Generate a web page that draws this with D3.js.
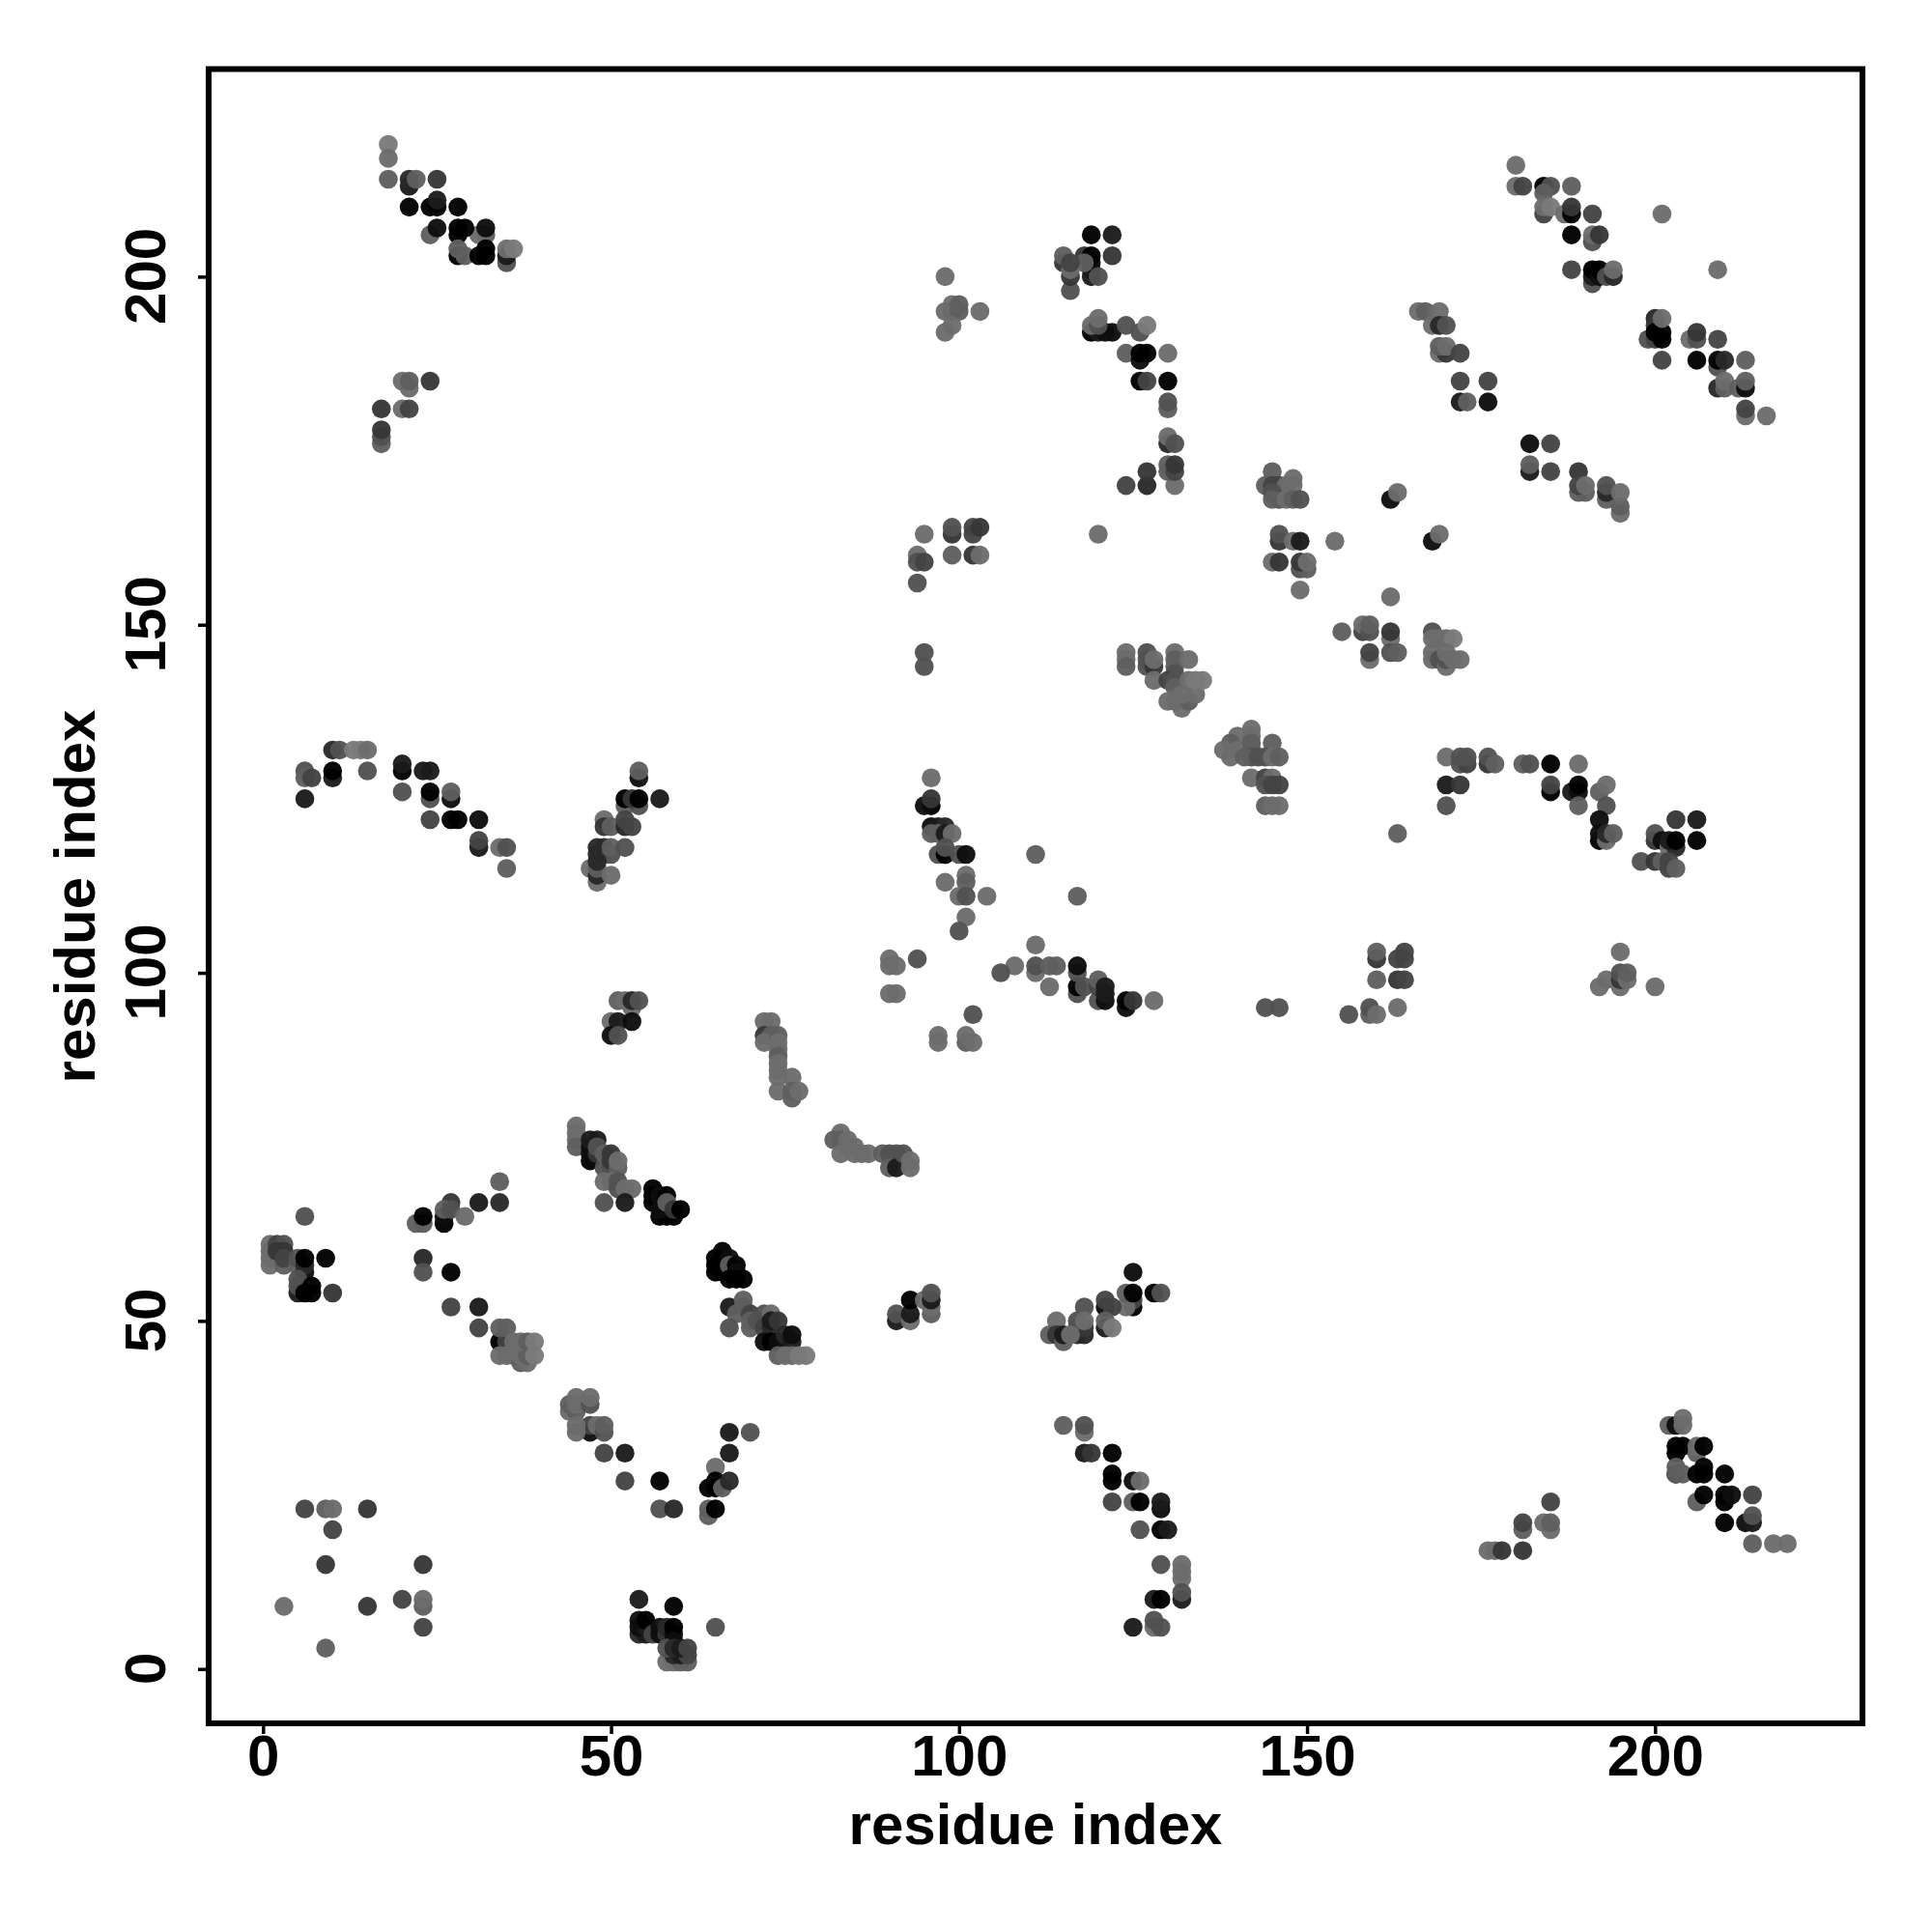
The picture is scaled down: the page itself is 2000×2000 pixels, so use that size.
<!DOCTYPE html>
<html><head><meta charset="utf-8">
<script src="https://cdn.jsdelivr.net/npm/d3@7/dist/d3.min.js"></script>
<style>html,body{margin:0;padding:0;background:#fff}svg{display:block}</style></head>
<body><div id="chart"></div>
<script>
// Each contact: [residue i, residue j, strength 0 (weak) .. 9 (strong)]
const xTickValues = [0, 50, 100, 150, 200];
const yTickValues = [0, 50, 100, 150, 200];
const xAxisTitle = "residue index";
const yAxisTitle = "residue index";

const topLeft = [[18,219,0],[18,217,1],[18,214,2],[21,213,7],[21,214,6],[22,214,2],[25,214,5],[21,210,9],[24,210,9],[25,210,9],[25,211,7],[28,210,9],[24,206,2],[25,207,8],[32,206,2],[31,206,1],[28,207,9],[29,207,9],[28,206,9],[32,207,8],[28,203,9],[28,204,2],[29,203,2],[31,203,9],[32,203,9],[32,204,9],[35,202,3],[35,203,7],[35,204,1],[36,204,0]];
const topLeftLow = [[20,185,1],[21,184,1],[21,185,2],[24,185,5],[17,181,5],[20,181,1],[21,181,4],[17,176,2],[17,177,3],[17,178,5]];
const midTop = [[98,200,1],[99,195,5],[98,195,1],[99,196,1],[100,196,2],[100,195,2],[99,193,1],[98,192,1],[103,195,1]];
const midTopB = [[119,206,9],[122,206,7],[122,203,5],[118,203,5],[119,200,7],[119,201,7],[119,202,8],[119,203,9],[118,202,2],[120,200,3],[115,202,5],[115,203,2],[116,198,3],[116,200,5],[116,201,1],[116,202,4]];
const midTopC = [[119,192,9],[120,192,7],[121,192,8],[122,192,8],[119,193,1],[120,193,3],[120,194,1],[124,193,3],[126,192,3],[127,193,0],[124,189,2],[126,188,8],[126,189,9],[127,189,9],[130,189,1],[126,185,9],[127,185,4],[130,185,9],[130,181,2],[130,182,3],[130,176,6],[130,177,1],[131,176,3],[127,170,6],[127,172,5],[124,170,4],[131,170,1],[130,172,2],[130,173,2],[131,172,4],[131,173,5]];
const midG = [[95,163,1],[99,163,5],[99,164,3],[102,163,4],[102,164,4],[103,164,5],[99,160,2],[102,160,5],[103,160,1],[94,160,1],[94,159,3],[95,159,4],[94,156,3],[95,146,3],[95,144,3],[120,163,1]];
const midI = [[124,146,1],[124,145,1],[124,144,2],[127,144,3],[127,145,3],[127,146,3],[128,144,5],[128,145,1],[128,142,1],[131,146,1],[131,145,2],[131,144,2],[131,143,3],[130,142,4],[131,142,3],[133,145,1],[131,141,2],[130,139,1],[131,139,1],[132,138,1],[133,139,2],[134,140,1],[132,140,1],[133,142,1],[134,142,0],[135,142,0]];
const midJ = [[142,135,1],[140,134,1],[139,133,2],[138,132,1],[139,131,1],[140,132,1],[142,134,1],[142,133,2],[142,132,2],[142,131,3],[145,133,2],[141,131,2],[143,131,3],[144,131,3],[145,131,1],[146,131,2],[142,128,1],[144,128,4],[145,128,1],[144,127,3],[145,127,4],[146,127,4],[144,124,2],[145,124,1],[146,124,1]];
const midK = [[96,128,1],[96,124,9],[95,124,8],[96,125,5],[96,121,8],[97,121,7],[98,121,6],[96,120,2],[97,120,2],[98,120,7],[99,120,1],[97,117,3],[98,117,9],[98,118,3],[100,117,3],[101,117,8],[98,113,1],[101,114,1],[101,113,2],[100,111,1],[101,111,3],[104,111,1],[101,108,1],[100,106,3],[111,117,2],[117,111,2]];
const midL = [[111,104,1],[108,101,1],[106,100,3],[111,100,1],[111,101,3],[113,101,2],[114,101,2],[113,98,1],[117,97,3],[117,98,9],[117,100,3],[117,101,8],[118,98,3],[120,96,3],[120,98,4],[120,99,2],[121,96,8],[121,97,7],[121,98,7],[124,95,8],[124,96,9],[125,96,5],[128,96,1],[90,102,1],[90,101,1],[91,101,1],[94,102,3],[90,97,1],[91,97,1],[102,94,3],[97,91,1],[97,90,1],[101,90,2],[101,91,1],[102,90,1],[144,95,3],[146,95,3],[156,94,3]];
const rightArc = [[170,131,1],[172,130,3],[173,130,4],[172,131,3],[173,131,3],[176,130,5],[176,131,3],[177,130,2],[181,130,2],[182,130,3],[185,130,9],[189,130,1],[170,127,7],[172,127,5],[170,124,3],[185,126,9],[185,127,4],[188,126,7],[189,126,8],[189,127,9],[189,124,2],[192,126,2],[193,127,1],[193,124,3],[192,122,8],[192,119,9],[192,120,8],[193,119,1],[193,120,6],[194,120,2],[200,119,5],[200,120,3],[201,119,8],[202,118,1],[203,118,6],[202,119,7],[203,119,9],[203,122,5],[206,122,7],[206,119,9],[198,116,3],[200,116,5],[201,116,2],[202,116,4],[202,115,4],[203,115,2],[163,120,2]];
const rightM = [[160,102,5],[160,103,2],[163,102,4],[164,102,4],[164,103,4],[160,99,2],[163,99,5],[164,99,4],[159,94,2],[159,95,3],[160,94,1],[163,95,1],[195,103,1],[193,99,1],[192,98,1],[195,98,1],[195,99,5],[195,100,3],[196,99,1],[196,100,2],[200,98,1]];
const topRight = [[180,216,1],[180,213,1],[181,213,4],[184,213,9],[185,213,3],[188,213,2],[184,212,2],[184,209,4],[184,210,1],[185,210,0],[187,209,1],[188,209,9],[188,210,5],[191,209,4],[188,206,9],[191,205,3],[191,206,1],[192,206,5],[188,201,4],[191,199,3],[191,200,7],[191,201,9],[192,200,8],[192,201,9],[193,200,3],[194,200,6],[194,201,1],[201,209,1],[209,201,1]];
const rightP = [[166,195,1],[167,195,2],[169,195,1],[168,193,1],[169,193,6],[170,193,3],[169,189,1],[170,189,5],[169,190,2],[170,190,1],[172,189,4],[172,185,4],[176,185,4],[172,182,7],[173,182,2],[176,182,8]];
const rightQ = [[182,176,8],[185,176,4],[182,172,7],[182,173,2],[185,172,4],[189,172,5],[189,169,2],[190,169,2],[189,170,4],[190,170,1],[193,168,2],[193,169,6],[193,170,3],[195,166,1],[195,167,2],[195,169,1]];
const rightR = [[200,194,6],[200,193,5],[199,191,3],[200,191,4],[200,192,9],[201,191,9],[201,192,9],[201,194,1],[205,191,1],[206,191,3],[206,192,5],[209,191,4],[201,188,4],[206,188,9],[209,187,3],[209,188,9],[210,188,6],[213,188,2],[209,184,6],[210,184,2],[210,185,1],[212,184,2],[213,184,8],[213,185,2],[213,180,1],[213,181,4],[216,180,1]];
const singles = [[162,168,8],[163,169,1],[168,162,8],[169,163,1],[154,162,1],[162,154,1],[155,149,2]];
const rightS = [[145,172,2],[144,170,2],[145,170,4],[146,170,4],[148,171,1],[147,170,1],[148,170,1],[145,169,3],[146,168,3],[145,168,2],[147,168,1],[148,168,2],[149,168,3],[146,162,5],[146,163,3],[148,162,1],[149,162,7],[145,159,1],[146,159,5],[149,158,3],[150,158,2],[149,159,5],[150,159,1],[149,155,1]];
const rightU = [[158,149,4],[158,150,1],[159,149,3],[159,150,2],[162,148,1],[162,149,5],[159,145,1],[159,146,4],[162,146,3],[163,146,2],[168,149,3],[168,148,1],[169,148,1],[170,148,1],[171,148,0],[168,146,1],[168,145,1],[169,145,3],[170,144,1],[170,145,3],[170,146,1],[171,145,1],[172,145,1]];
const leftW = [[6,129,3],[6,128,2],[7,128,4],[6,125,7],[10,132,6],[11,132,3],[13,132,0],[14,132,0],[15,132,1],[10,128,7],[10,129,9],[15,129,3],[20,129,9],[20,130,7],[20,126,3],[23,129,7],[24,129,7],[24,125,3],[24,126,9],[27,125,8],[27,126,2],[24,122,4],[27,122,9],[28,122,9],[31,122,8],[31,118,7],[31,119,4],[34,118,1],[35,118,3],[35,115,2]];
const leftX = [[54,128,8],[54,129,2],[52,124,2],[54,124,3],[52,125,9],[53,125,5],[54,125,9],[57,125,7],[49,122,1],[49,121,5],[50,121,2],[52,121,6],[52,122,4],[53,121,4],[48,117,6],[48,118,6],[49,117,4],[49,118,6],[50,117,3],[50,118,2],[52,118,3],[47,115,1],[48,113,1],[48,114,6],[48,115,2],[48,116,6],[50,114,1]];
const leftY = [[51,96,2],[52,96,1],[53,95,1],[53,96,6],[54,96,3],[50,93,1],[51,93,7],[53,93,8],[50,91,8],[51,91,3]];
const midZ = [[72,93,1],[73,93,1],[72,91,5],[73,91,2],[72,90,1],[74,91,2],[74,90,1],[74,89,1],[74,88,2],[74,87,1],[74,86,1],[74,85,1],[74,83,1],[76,85,1],[76,82,2],[76,83,2],[77,83,1],[83,77,1],[82,76,2],[83,76,2],[84,76,1],[84,75,1],[85,75,1],[83,74,1],[85,74,1],[86,74,1],[87,74,1],[89,74,2],[90,74,3],[91,74,3],[90,72,2],[91,72,7],[92,74,3],[93,73,1],[93,72,1]];
const band50 = [[91,50,7],[91,51,3],[93,50,1],[93,51,7],[93,53,9],[95,53,1],[96,51,2],[96,52,1],[96,53,7],[96,54,3],[125,57,8],[125,52,9],[125,53,4],[124,52,1],[124,54,2],[125,54,9],[128,54,9],[129,54,3],[121,52,8],[121,53,4],[122,52,4],[121,49,7],[121,50,2],[122,49,0],[118,52,3],[117,48,6],[118,48,6],[117,49,4],[118,49,5],[117,50,3],[118,50,1],[114,50,1],[113,48,2],[114,48,5],[115,47,2],[115,48,7],[116,48,1]];
const lowerRightArc = [[115,35,2],[118,34,1],[118,35,3],[118,31,7],[119,31,5],[122,31,9],[122,27,9],[122,28,9],[125,27,8],[126,27,1],[122,24,4],[125,24,2],[126,24,9],[129,23,8],[129,24,7],[126,20,3],[129,20,9],[130,20,7],[129,15,3],[132,15,1],[132,14,1],[132,13,1],[132,10,7],[132,11,3],[128,10,7],[129,10,9],[125,6,7],[128,6,1],[128,7,3],[129,6,3]];
const left60 = [[6,65,3],[34,70,2],[34,67,6],[31,67,7],[27,67,5],[22,64,2],[23,64,2],[23,65,9],[26,64,9],[26,65,8],[26,66,2],[27,66,3],[29,65,1]];
const left55 = [[1,61,1],[1,60,1],[1,59,1],[1,58,1],[3,58,2],[2,61,4],[3,61,3],[2,60,5],[3,60,5],[3,59,4],[5,58,2],[5,59,3],[6,57,8],[6,58,6],[6,59,9],[9,59,9],[5,56,3],[5,54,7],[5,55,3],[6,54,9],[7,54,9],[7,55,9],[10,54,5]];
const left50 = [[23,59,6],[23,57,3],[27,57,9],[27,52,4],[31,52,7],[31,49,4],[34,47,9],[35,47,4],[34,49,2],[35,49,2],[34,45,1],[35,45,1],[36,45,1],[36,47,1],[37,44,2],[38,44,1],[37,45,1],[38,45,2],[37,47,1],[38,47,2],[39,45,0],[39,47,0]];
const middle70 = [[45,78,1],[45,77,1],[45,76,1],[45,75,2],[47,73,9],[47,74,8],[47,75,8],[47,76,7],[48,76,7],[48,74,5],[48,75,3],[49,72,3],[49,74,2],[50,72,3],[50,73,5],[50,74,5],[51,72,2],[51,73,1],[49,70,1],[50,70,1],[51,70,3],[51,69,3],[52,69,1],[53,69,1],[49,67,3],[52,67,7],[56,67,9],[56,68,9],[56,69,9],[57,65,9],[58,65,9],[59,65,9],[57,66,8],[57,68,8],[58,68,9],[58,67,2],[59,66,5],[60,66,9]];
const middle55 = [[65,57,9],[65,58,9],[65,59,9],[66,57,9],[66,60,9],[67,59,8],[67,58,2],[68,58,9],[68,57,8],[67,56,9],[68,56,9],[69,56,9],[67,52,7],[69,52,3],[69,53,2],[68,51,2],[70,51,4],[70,50,2],[67,49,3],[70,49,2],[71,50,3],[72,51,3],[73,51,1],[72,49,4],[73,49,6],[73,50,7],[74,50,5],[72,47,8],[73,47,9],[74,47,8],[75,48,6],[76,47,7],[76,48,8],[74,45,2],[75,45,1],[76,45,1],[77,45,0],[78,45,0]];
const lower35 = [[44,37,1],[44,38,2],[45,37,2],[45,38,1],[45,39,1],[47,38,3],[47,39,1],[47,34,8],[47,35,4],[45,34,1],[45,35,1],[48,35,1],[49,34,3],[49,35,2],[49,31,4],[52,31,7],[52,27,4],[57,27,9],[57,23,3],[59,23,6],[67,34,7],[70,34,3],[67,31,7],[65,29,1],[64,26,9],[65,26,9],[65,27,9],[66,26,2],[67,27,6],[64,22,2],[64,23,2],[65,23,9]];
const bottomLeft = [[6,23,4],[9,23,2],[10,23,1],[15,23,5],[10,20,4],[9,15,5],[23,15,5],[3,9,1],[15,9,5],[20,10,4],[23,9,2],[23,10,1],[23,6,4],[9,3,2]];
const bottom5 = [[54,10,7],[59,9,9],[54,5,6],[55,5,7],[54,6,8],[55,6,7],[54,7,8],[55,7,9],[56,5,4],[57,5,8],[57,6,8],[58,5,5],[58,6,6],[59,5,8],[59,6,9],[59,4,8],[58,1,1],[59,1,1],[60,1,2],[61,1,2],[59,2,6],[60,2,7],[61,2,4],[58,3,3],[59,3,6],[60,3,7],[61,3,4],[65,6,3]];
const lowerRight = [[176,17,1],[177,17,1],[178,17,5],[181,17,5],[181,20,2],[181,21,4],[184,21,1],[185,20,1],[185,21,2],[185,24,4],[202,35,2],[203,35,8],[204,35,1],[204,36,1],[203,31,9],[203,32,9],[204,32,9],[206,31,2],[206,32,1],[207,32,9],[203,28,9],[203,29,2],[203,28,2],[204,28,2],[206,28,9],[207,28,9],[207,29,9],[210,28,9],[206,24,2],[207,25,9],[210,24,9],[210,25,9],[211,25,8],[214,25,4],[210,21,9],[213,21,8],[214,21,7],[214,22,3],[214,18,2],[217,18,1],[219,18,1]];

const contacts = [].concat(topLeft, topLeftLow, midTop, midTopB, midTopC, midG, midI, midJ, midK, midL, rightArc, rightM, topRight, rightP, rightQ, rightR, singles, rightS, rightU, leftW, leftX, leftY, midZ, band50, lowerRightArc, left60, left55, left50, middle70, middle55, lower35, bottomLeft, bottom5, lowerRight);

const font = '"Liberation Sans", Arial, sans-serif';
const svg = d3.select("#chart").append("svg").attr("width", 2000).attr("height", 2000);
svg.append("rect").attr("width", 2000).attr("height", 2000).attr("fill", "#fff");

const panel = {left: 216, right: 1928, top: 71.5, bottom: 1784};
const x = d3.scaleLinear().domain([0, 200]).range([272.3, 1713.3]);
const y = d3.scaleLinear().domain([0, 200]).range([1727.7, 286.4]);
const shade = d3.scaleLinear().domain([0, 9]).range(["#7a7a7a", "#000000"]);

svg.append("g").selectAll("circle").data(contacts).join("circle")
  .attr("cx", d => x(d[0])).attr("cy", d => y(d[1])).attr("r", 9.8)
  .attr("fill", d => shade(d[2])).attr("fill-opacity", 0.96);

svg.append("rect").attr("x", panel.left).attr("y", panel.top)
  .attr("width", panel.right - panel.left).attr("height", panel.bottom - panel.top)
  .attr("fill", "none").attr("stroke", "#000").attr("stroke-width", 6);

const xAxis = svg.append("g").attr("transform", `translate(0,${panel.bottom})`)
  .call(d3.axisBottom(x).tickValues(xTickValues).tickSize(11).tickPadding(3).tickFormat(d3.format("d")));
const yAxis = svg.append("g").attr("transform", `translate(${panel.left},0)`)
  .call(d3.axisLeft(y).tickValues(yTickValues).tickSize(11).tickFormat(d3.format("d")));
xAxis.select(".domain").remove();
yAxis.select(".domain").remove();
svg.selectAll(".tick line").attr("stroke", "#000").attr("stroke-width", 3.5);
svg.selectAll(".tick text").attr("font-family", font).attr("font-weight", "bold").attr("font-size", 60).attr("fill", "#000");
xAxis.selectAll("text").attr("dy", null).attr("y", null)
  .attr("text-anchor", "middle").attr("dominant-baseline", "auto")
  .attr("y", 1838 - panel.bottom);
yAxis.selectAll("text").attr("dy", null).attr("x", null).attr("y", null)
  .attr("text-anchor", "middle")
  .attr("transform", `translate(${171 - panel.left},-1) rotate(-90)`);

svg.append("text").attr("x", 1072).attr("y", 1909).attr("text-anchor", "middle")
  .attr("font-family", font).attr("font-weight", "bold").attr("font-size", 60).text(xAxisTitle);
svg.append("text").attr("transform", "translate(98,928) rotate(-90)").attr("text-anchor", "middle")
  .attr("font-family", font).attr("font-weight", "bold").attr("font-size", 60).text(yAxisTitle);
</script></body></html>
